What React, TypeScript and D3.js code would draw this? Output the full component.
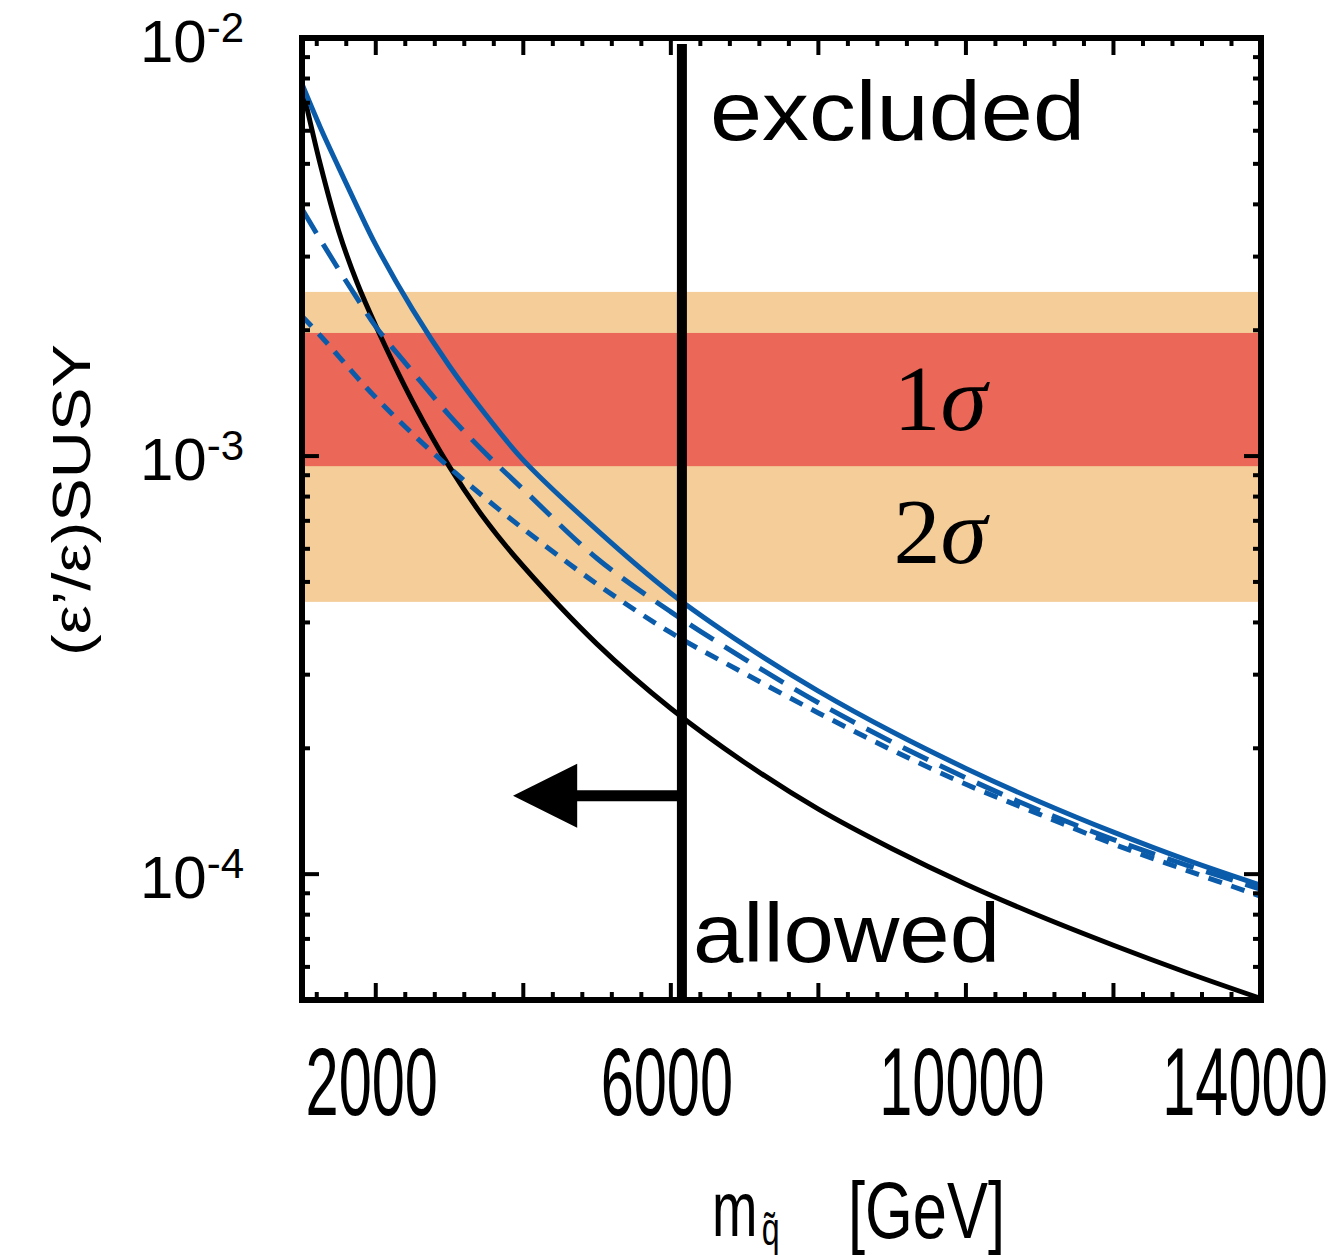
import React from 'react';
import * as d3 from 'd3';

// squark mass grid (GeV)
const MASS = [1000, 1250, 1500, 1750, 2000, 2500, 3000, 3500, 4000, 5000, 6000, 7000, 8000, 9000, 10000, 11000, 12000, 13000, 14000];

// (eps'/eps)_SUSY
const BLACK_SOLID = [7.68e-3, 4.97e-3, 3.44e-3, 2.59e-3, 2.05e-3, 1.35e-3, 9.42e-4, 6.98e-4, 5.45e-4, 3.55e-4, 2.49e-4, 1.85e-4, 1.43e-4, 1.15e-4, 9.46e-5, 7.94e-5, 6.76e-5, 5.81e-5, 5.04e-5];
const BLUE_SOLID = [7.76e-3, 6.1e-3, 4.89e-3, 3.94e-3, 3.2e-3, 2.24e-3, 1.64e-3, 1.25e-3, 9.78e-4, 6.65e-4, 4.7e-4, 3.53e-4, 2.74e-4, 2.19e-4, 1.79e-4, 1.49e-4, 1.26e-4, 1.08e-4, 9.4e-5];
const BLUE_LONG_DASH = [3.9e-3, 3.29e-3, 2.79e-3, 2.38e-3, 2.04e-3, 1.59e-3, 1.25e-3, 1.01e-3, 8.32e-4, 5.69e-4, 4.24e-4, 3.27e-4, 2.57e-4, 2.07e-4, 1.7e-4, 1.42e-4, 1.21e-4, 1.05e-4, 9.2e-5];
const BLUE_SHORT_DASH = [2.16e-3, 1.94e-3, 1.73e-3, 1.54e-3, 1.38e-3, 1.13e-3, 9.38e-4, 7.89e-4, 6.7e-4, 4.94e-4, 3.78e-4, 3.02e-4, 2.43e-4, 1.98e-4, 1.64e-4, 1.39e-4, 1.18e-4, 1.02e-4, 8.85e-5];

// experimental bands
const BAND_2SIGMA = [4.48e-4, 2.47e-3];
const BAND_1SIGMA = [9.46e-4, 1.97e-3];

// mass bound and arrow
const MASS_BOUND = 6150;
const ARROW_Y = 1.54e-4;
const ARROW_HEAD_BASE = 4730;
const ARROW_TIP = 3860;

const X_DOMAIN = [1000, 14000];
const Y_DOMAIN = [5e-5, 1e-2];
const X_TICK_LABELS = [2000, 6000, 10000, 14000];
const Y_TICK_EXPONENTS = [-2, -3, -4];

const BLUE = '#0a5cab';

export default function App() {
  const left = 302, right = 1261, top = 38, bottom = 1000;

  const x = d3.scaleLinear().domain(X_DOMAIN).range([left, right]);
  const y = d3.scaleLog().domain(Y_DOMAIN).range([bottom, top]);

  const path = (vals: number[]) =>
    d3
      .line<number>()
      .x((_, i) => x(MASS[i]))
      .y(d => y(d))
      .curve(d3.curveCatmullRom.alpha(0.5))(vals) || '';

  const xMinor = d3.range(1200, 14000, 400).filter(v => v % 2000 !== 0);
  const xMajor = d3.range(2000, 14001, 2000);
  const yTicks = y.ticks();
  const isMajor = (t: number) => Math.abs(Math.log10(t) - Math.round(Math.log10(t))) < 1e-6;

  const font = "'Liberation Sans', Arial, sans-serif";
  const serif = "'Liberation Serif', 'DejaVu Serif', serif";

  const xb = x(MASS_BOUND);
  const ay = y(ARROW_Y);

  return (
    <svg
      width={1336}
      height={1255}
      style={{ position: 'absolute', left: 0, top: 0, background: '#fff' }}
    >
      <defs>
        <clipPath id="plot">
          <rect x={left} y={top} width={right - left} height={bottom - top} />
        </clipPath>
      </defs>

      {/* bands */}
      <rect x={left} width={right - left} y={y(BAND_2SIGMA[1])} height={y(BAND_2SIGMA[0]) - y(BAND_2SIGMA[1])} fill="#f4cd99" />
      <rect x={left} width={right - left} y={y(BAND_1SIGMA[1])} height={y(BAND_1SIGMA[0]) - y(BAND_1SIGMA[1])} fill="#eb6757" />

      {/* curves */}
      <g clipPath="url(#plot)" fill="none" strokeWidth={5} strokeLinejoin="round">
        <path d={path(BLACK_SOLID)} stroke="#000" />
        <path d={path(BLUE_SOLID)} stroke={BLUE} />
        <path d={path(BLUE_LONG_DASH)} stroke={BLUE} strokeDasharray="28 13" />
        <path d={path(BLUE_SHORT_DASH)} stroke={BLUE} strokeDasharray="14 10" />
      </g>

      {/* mass bound + arrow */}
      <line x1={xb} x2={xb} y1={top + 6} y2={bottom} stroke="#000" strokeWidth={10} />
      <line x1={xb} x2={x(ARROW_HEAD_BASE) - 2} y1={ay} y2={ay} stroke="#000" strokeWidth={11} />
      <polygon
        points={`${x(ARROW_TIP)},${ay} ${x(ARROW_HEAD_BASE)},${ay - 32} ${x(ARROW_HEAD_BASE)},${ay + 32}`}
        fill="#000"
      />

      {/* ticks */}
      <g stroke="#000" strokeWidth={4}>
        {xMinor.map(v => (
          <g key={'xm' + v}>
            <line x1={x(v)} x2={x(v)} y1={bottom} y2={bottom - 8} />
            <line x1={x(v)} x2={x(v)} y1={top} y2={top + 8} />
          </g>
        ))}
        {xMajor.map(v => (
          <g key={'xM' + v}>
            <line x1={x(v)} x2={x(v)} y1={bottom} y2={bottom - 17} />
            <line x1={x(v)} x2={x(v)} y1={top} y2={top + 17} />
          </g>
        ))}
        {yTicks.map(t => {
          const len = isMajor(t) ? 17 : 8;
          return (
            <g key={'y' + t}>
              <line x1={left} x2={left + len} y1={y(t)} y2={y(t)} />
              <line x1={right} x2={right - len} y1={y(t)} y2={y(t)} />
            </g>
          );
        })}
      </g>

      {/* frame */}
      <rect x={left} y={top} width={right - left} height={bottom - top} fill="none" stroke="#000" strokeWidth={6} />

      {/* band labels */}
      <text
        x={x(9650)}
        y={(y(BAND_1SIGMA[0]) + y(BAND_1SIGMA[1])) / 2 + 30}
        textAnchor="middle"
        fontFamily={serif}
        fontSize={94}
      >
        1<tspan fontStyle="italic">σ</tspan>
      </text>
      <text
        x={x(9650)}
        y={(y(BAND_2SIGMA[0]) + y(BAND_1SIGMA[0])) / 2 + 29}
        textAnchor="middle"
        fontFamily={serif}
        fontSize={94}
      >
        2<tspan fontStyle="italic">σ</tspan>
      </text>

      {/* region labels */}
      <text x={710} y={140} fontFamily={font} fontSize={84} textLength={375} lengthAdjust="spacingAndGlyphs">
        excluded
      </text>
      <text x={693} y={962} fontFamily={font} fontSize={84} textLength={307} lengthAdjust="spacingAndGlyphs">
        allowed
      </text>

      {/* x tick labels */}
      {X_TICK_LABELS.map(v => (
        <g key={'xl' + v} transform={`translate(${Math.min(x(v) - 4, 1245)},1115) scale(0.62,1)`}>
          <text textAnchor="middle" fontFamily={font} fontSize={96}>
            {v}
          </text>
        </g>
      ))}

      {/* y tick labels */}
      {Y_TICK_EXPONENTS.map(e => (
        <text key={'yl' + e} x={140} y={y(Math.pow(10, e)) + 24} fontFamily={font} fontSize={60}>
          10
          <tspan fontSize={42} dy={-20}>
            {e}
          </tspan>
        </text>
      ))}

      {/* axis titles */}
      <text
        transform="translate(90,500) rotate(-90)"
        textAnchor="middle"
        fontFamily={font}
        fontSize={54}
        textLength={312}
        lengthAdjust="spacingAndGlyphs"
      >
        (ε’/ε)SUSY
      </text>
      <g transform="translate(712,1236) scale(0.7,1)">
        <text fontFamily={font} fontSize={78}>
          m
          <tspan fontSize={46} dx={6} dy={9}>
            q̃
          </tspan>
        </text>
      </g>
      <text x={848} y={1238} fontFamily={font} fontSize={80} textLength={157} lengthAdjust="spacingAndGlyphs">
        [GeV]
      </text>
    </svg>
  );
}
